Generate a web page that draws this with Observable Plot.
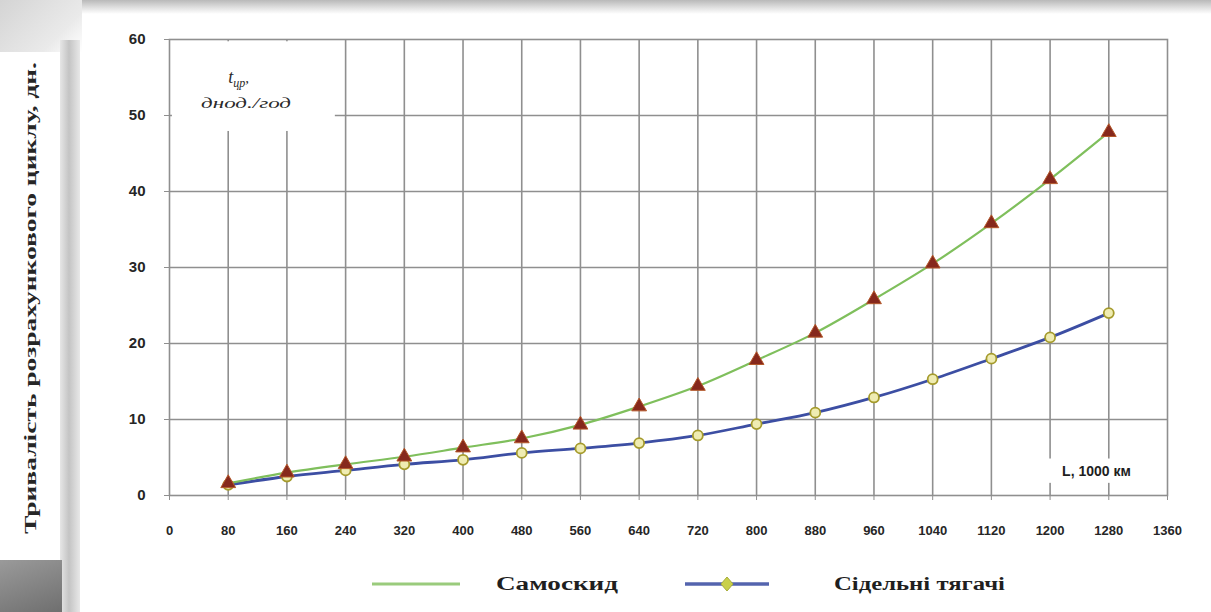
<!DOCTYPE html>
<html>
<head>
<meta charset="utf-8">
<script src="https://cdn.jsdelivr.net/npm/d3@7"></script>
<script src="https://cdn.jsdelivr.net/npm/@observablehq/plot@0.6"></script>
<style>
  body { margin: 0; background: #fff; }
  #page { position: relative; width: 1211px; height: 612px; overflow: hidden; background: #fff; }
  #chart { position: absolute; left: 0; top: 0; }
  .topband { position: absolute; left: 0; top: 0; width: 1211px; height: 14px;
             background: linear-gradient(#b9b9b9, #e4e4e4 60%, #fff); }
  .corner { position: absolute; left: 0; top: 0; width: 82px; height: 52px;
            background: linear-gradient(135deg, #d4d4d4, #eaeaea 70%, #fff); }
  .strip { position: absolute; left: 60px; top: 40px; width: 20px; height: 572px;
           background: linear-gradient(90deg, #e6e6e6, #c4c4c4 45%, #e8e8e8); }
  .wedge { position: absolute; left: 0; top: 560px; width: 62px; height: 52px;
           background: linear-gradient(160deg, #9a9a9a, #6f6f6f); }
  #ytitle, #legend { position: absolute; left: 0; top: 0; }
</style>
</head>
<body>
<div id="page">
  <div class="topband"></div>
  <div class="corner"></div>
  <div class="strip"></div>
  <div class="wedge"></div>
  <div id="chart"></div>
  <svg id="ytitle" width="62" height="612"></svg>
  <svg id="legend" width="1211" height="612" style="pointer-events:none"></svg>
</div>
<script>
// Distance travelled, thousand km
const distances = [80, 160, 240, 320, 400, 480, 560, 640, 720, 800, 880, 960, 1040, 1120, 1200, 1280];
// Duration of the calculation cycle, days
const dumpTrucks = [1.6, 3.0, 4.1, 5.1, 6.3, 7.5, 9.3, 11.7, 14.4, 17.8, 21.4, 25.8, 30.5, 35.8, 41.6, 47.8];
const tractors   = [1.4, 2.5, 3.3, 4.1, 4.7, 5.6, 6.2, 6.9, 7.9, 9.4, 10.9, 12.9, 15.3, 18.0, 20.8, 24.0];
const seriesNames = ["Самоскид", "Сідельні тягачі"];
const xTicks = [0, 80, 160, 240, 320, 400, 480, 560, 640, 720, 800, 880, 960, 1040, 1120, 1200, 1280, 1360];
const yTicks = [0, 10, 20, 30, 40, 50, 60];
const yTitle = "Тривалість розрахункового циклу, дн.";
const xUnit = "L, 1000 км";
const noteSymbol = "t";
const noteIndex = "цр";
const noteUnit = "днод./год";

const truckRows = distances.map((L, i) => ({L, value: dumpTrucks[i], series: seriesNames[0]}));
const tractorRows = distances.map((L, i) => ({L, value: tractors[i], series: seriesNames[1]}));

// White panels behind the in-plot captions (data units)
const noteBoxes = [
  {x1: 4, x2: 226, y1: 47.9, y2: 59.7},
  {x1: 1150, x2: 1320, y1: 1.6, y2: 4.8}
];

const gridColor = "#8f8f8f";
const greenLine = "#7fbf5c";
const blueLine = "#3c4ea3";

const chart = Plot.plot({
  width: 1211,
  height: 545,
  marginLeft: 169,
  marginRight: 44,
  marginTop: 39,
  marginBottom: 50,
  style: {background: "transparent", fontFamily: "'Liberation Sans', Arial, sans-serif", color: "#262626"},
  x: {domain: [0, 1360]},
  y: {domain: [0, 60]},
  marks: [
    Plot.gridX(distances, {stroke: gridColor, strokeOpacity: 1, strokeWidth: 1.6}),
    Plot.gridY(yTicks.slice(1, -1), {stroke: gridColor, strokeOpacity: 1, strokeWidth: 1.6}),
    Plot.rect(noteBoxes, {x1: "x1", x2: "x2", y1: "y1", y2: "y2", fill: "white"}),
    Plot.frame({stroke: gridColor, strokeWidth: 1.6}),
    Plot.line(tractorRows, {x: "L", y: "value", stroke: blueLine, strokeWidth: 2.8, curve: "catmull-rom"}),
    Plot.line(truckRows, {x: "L", y: "value", stroke: greenLine, strokeWidth: 2.2, curve: "catmull-rom"}),
    Plot.dot(tractorRows, {x: "L", y: "value", symbol: "circle", r: 5, fill: "#efecb2", stroke: "#a59b2c", strokeWidth: 1.8}),
    Plot.dot(truckRows, {x: "L", y: "value", symbol: "triangle", r: 5.5, fill: "#86281c", stroke: "#b4582a", strokeWidth: 1}),
    Plot.axisX({ticks: xTicks, tickFormat: d => String(d), tickSize: 5, tickPadding: 25, fontSize: 13, fontWeight: "bold", stroke: gridColor, label: null}),
    Plot.axisY({ticks: yTicks, tickFormat: d => String(d), tickSize: 5, tickPadding: 19, fontSize: 15, fontWeight: "bold", stroke: gridColor, label: null}),
    Plot.text([xUnit], {x: 1310, y: 3.2, text: d => d, textAnchor: "end", fontSize: 14, fontWeight: "bold", fill: "#1e1e1e"})
  ]
});
document.getElementById("chart").append(chart);

// Caption in the upper-left corner of the plot, with a subscript
const xs = chart.scale("x"), ys = chart.scale("y");
const svg = d3.select(chart);
const note = svg.append("text")
  .attr("x", xs.apply(95)).attr("y", ys.apply(54.2))
  .attr("text-anchor", "middle")
  .attr("font-family", "'Liberation Serif', 'Times New Roman', serif")
  .attr("font-style", "italic").attr("fill", "#2a2a2a");
note.append("tspan").attr("font-size", 18).text(noteSymbol);
note.append("tspan").attr("font-size", 12).attr("dy", 4).text(noteIndex);
note.append("tspan").attr("font-size", 15).attr("dy", -4).text(",");
svg.append("text")
  .attr("x", xs.apply(105)).attr("y", ys.apply(50.9))
  .attr("text-anchor", "middle")
  .attr("font-family", "'Liberation Serif', 'Times New Roman', serif")
  .attr("font-style", "italic").attr("font-size", 15).attr("fill", "#2a2a2a")
  .attr("textLength", 90).attr("lengthAdjust", "spacingAndGlyphs")
  .text(noteUnit);

// Rotated axis title on the left
d3.select("#ytitle").append("text")
  .attr("transform", "translate(36,298) rotate(-90)")
  .attr("text-anchor", "middle")
  .attr("font-family", "'Liberation Serif', 'Times New Roman', serif")
  .attr("font-size", 17).attr("font-weight", "bold").attr("fill", "#262626")
  .attr("textLength", 472).attr("lengthAdjust", "spacingAndGlyphs")
  .text(yTitle);

// Legend row below the chart
const lg = d3.select("#legend").append("g")
  .attr("font-family", "'Liberation Serif', 'Times New Roman', serif")
  .attr("font-size", 18).attr("font-weight", "bold").attr("fill", "#1f1f1f");
lg.append("line").attr("x1", 372).attr("x2", 460).attr("y1", 584).attr("y2", 584)
  .attr("stroke", "#9acb7c").attr("stroke-width", 3);
lg.append("text").attr("x", 496).attr("y", 590)
  .attr("textLength", 122).attr("lengthAdjust", "spacingAndGlyphs").text(seriesNames[0]);
lg.append("line").attr("x1", 685).attr("x2", 769).attr("y1", 584).attr("y2", 584)
  .attr("stroke", "#5464ae").attr("stroke-width", 3.5);
lg.append("path").attr("d", "M727,577 L733,584 L727,591 L721,584 Z")
  .attr("fill", "#c9d04a").attr("stroke", "#a7ad3a");
lg.append("text").attr("x", 834).attr("y", 590)
  .attr("textLength", 171).attr("lengthAdjust", "spacingAndGlyphs").text(seriesNames[1]);
</script>
</body>
</html>
